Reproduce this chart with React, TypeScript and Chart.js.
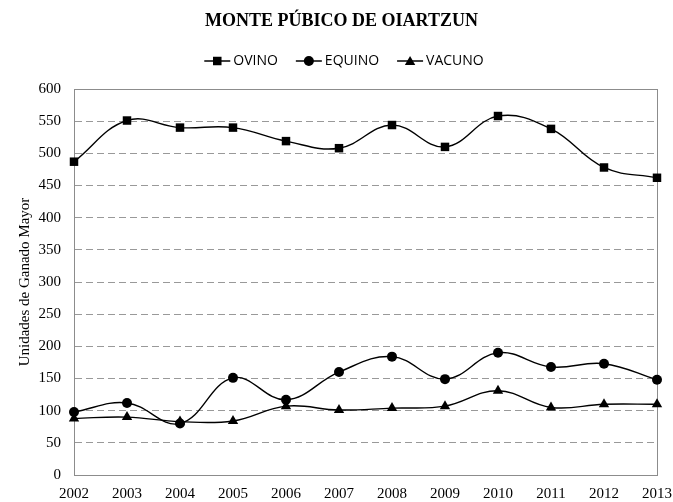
import React, { useEffect, useRef } from "react";
import { Chart, registerables } from "chart.js";

Chart.register(...registerables);

const years = ["2002", "2003", "2004", "2005", "2006", "2007", "2008", "2009", "2010", "2011", "2012", "2013"];
const ovino = [487, 551, 540, 540, 519, 508, 544, 510, 558, 538, 478, 462];
const equino = [98, 112, 80, 151, 117, 160, 184, 149, 190, 168, 173, 148];
const vacuno = [88, 90, 83, 84, 107, 101, 104, 107, 131, 105, 110, 110];
const seriesNames = ["OVINO", "EQUINO", "VACUNO"];
const markerStyles = ["rect", "circle", "triangle"];
const titleText = "MONTE PÚBICO DE OIARTZUN";
const yTitle = "Unidades de Ganado Mayor";

function drawMarker(ctx: CanvasRenderingContext2D, style: string, x: number, y: number) {
  ctx.beginPath();
  if (style === "rect") {
    ctx.rect(x - 4.25, y - 4.25, 8.5, 8.5);
  } else if (style === "circle") {
    ctx.arc(x, y, 5, 0, Math.PI * 2);
  } else {
    ctx.moveTo(x, y - 5);
    ctx.lineTo(x + 5.2, y + 4);
    ctx.lineTo(x - 5.2, y + 4);
    ctx.closePath();
  }
  ctx.fill();
}

const framePlugin = {
  id: "frame",
  beforeDatasetsDraw(chart: any) {
    const { ctx, chartArea } = chart;
    ctx.save();
    ctx.strokeStyle = "#8c8c8c";
    ctx.lineWidth = 1;
    ctx.setLineDash([]);
    ctx.strokeRect(Math.round(chartArea.left) + 0.5, Math.round(chartArea.top) + 0.5,
      Math.round(chartArea.right - chartArea.left), Math.round(chartArea.bottom - chartArea.top));
    ctx.restore();
  },
};

const headerPlugin = {
  id: "header",
  afterDraw(chart: any) {
    const ctx: CanvasRenderingContext2D = chart.ctx;
    ctx.save();
    ctx.fillStyle = "#000";
    ctx.font = "bold 18px 'Liberation Serif'";
    ctx.textAlign = "center";
    ctx.textBaseline = "middle";
    ctx.fillText(titleText, 341.5, 21);

    ctx.font = "14px 'Open Sans'";
    ctx.textAlign = "left";
    const y = 61;
    const iconW = 26;
    const gapText = 3;
    const gapItem = 18;
    const widths = seriesNames.map((n) => ctx.measureText(n).width);
    const total = widths.reduce((a, w) => a + iconW + gapText + w, 0) + gapItem * (seriesNames.length - 1);
    let x = 344 - total / 2;
    seriesNames.forEach((name, i) => {
      ctx.strokeStyle = "#000";
      ctx.lineWidth = 1.5;
      ctx.beginPath();
      ctx.moveTo(x, y);
      ctx.lineTo(x + iconW, y);
      ctx.stroke();
      ctx.fillStyle = "#000";
      drawMarker(ctx, markerStyles[i], x + iconW / 2, y);
      ctx.fillText(name, x + iconW + gapText, y + 0.5);
      x += iconW + gapText + widths[i] + gapItem;
    });
    ctx.restore();
  },
};

export default function App() {
  const ref = useRef<HTMLCanvasElement | null>(null);
  useEffect(() => {
    if (!ref.current) return;
    const mk = (label: string, data: number[], style: string, r: number) => ({
      label,
      data,
      borderColor: "#000",
      backgroundColor: "#000",
      borderWidth: 1.4,
      tension: 0.4,
      pointStyle: style,
      pointRadius: r,
      pointBorderWidth: 0,
      pointBackgroundColor: "#000",
    });
    const chart = new Chart(ref.current, {
      type: "line",
      data: {
        labels: years,
        datasets: [
          mk(seriesNames[0], ovino, "rect", 6),
          mk(seriesNames[1], equino, "circle", 5),
          mk(seriesNames[2], vacuno, "triangle", 6),
        ],
      },
      options: {
        animation: false,
        responsive: false,
        layout: { padding: { top: 89, left: 0, right: 16, bottom: 0 } },
        plugins: {
          legend: { display: false },
          title: { display: false },
          tooltip: { enabled: false },
        },
        scales: {
          x: {
            type: "category",
            offset: false,
            grid: { display: false, drawTicks: false },
            border: { display: true, color: "#8c8c8c", width: 1 },
            ticks: {
              color: "#000",
              font: { family: "'Liberation Serif'", size: 15 },
              padding: 10,
              maxRotation: 0,
              autoSkip: false,
            },
            afterFit(scale: any) {
              scale.height = 27;
              scale.paddingLeft = 0;
              scale.paddingRight = 0;
            },
          },
          y: {
            min: 0,
            max: 600,
            ticks: {
              stepSize: 50,
              color: "#000",
              font: { family: "'Liberation Serif'", size: 15 },
              padding: 13,
            },
            grid: {
              color: "#999999",
              lineWidth: 1,
              drawTicks: false,
            },
            border: { display: true, color: "#8c8c8c", width: 1, dash: [7, 4] },
            title: {
              display: true,
              text: yTitle,
              color: "#000",
              font: { family: "'Liberation Serif'", size: 15 },
              padding: { top: 16, bottom: 0 },
            },
            afterFit(scale: any) {
              scale.width = 74;
            },
          },
        },
      } as any,
      plugins: [framePlugin, headerPlugin],
    });
    return () => chart.destroy();
  }, []);
  return (
    <div style={{ position: "fixed", left: 0, top: 0, width: 673, height: 502, background: "#fff" }}>
      <canvas ref={ref} width={673} height={502} style={{ display: "block" }} />
    </div>
  );
}
